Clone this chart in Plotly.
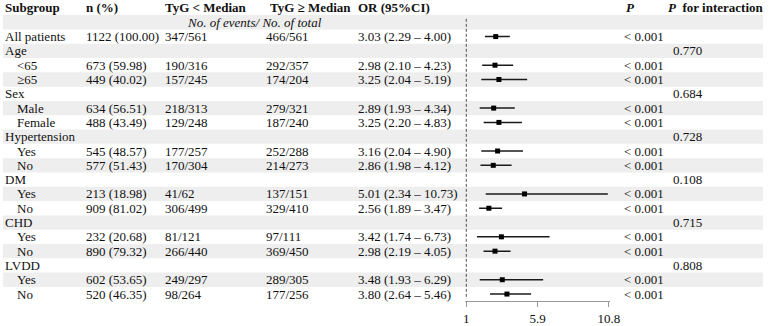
import plotly.graph_objects as go

# ---------------- data ----------------
subgroups = ["All patients", "Age", "<65", "≥65", "Sex", "Male", "Female",
             "Hypertension", "Yes", "No", "DM", "Yes", "No", "CHD", "Yes", "No",
             "LVDD", "Yes", "No"]
indent = [0, 0, 1, 1, 0, 1, 1, 0, 1, 1, 0, 1, 1, 0, 1, 1, 0, 1, 1]
n_pct = ["1122 (100.00)", "", "673 (59.98)", "449 (40.02)", "", "634 (56.51)", "488 (43.49)",
         "", "545 (48.57)", "577 (51.43)", "", "213 (18.98)", "909 (81.02)", "",
         "232 (20.68)", "890 (79.32)", "", "602 (53.65)", "520 (46.35)"]
tyg_low = ["347/561", "", "190/316", "157/245", "", "218/313", "129/248", "", "177/257",
           "170/304", "", "41/62", "306/499", "", "81/121", "266/440", "", "249/297", "98/264"]
tyg_high = ["466/561", "", "292/357", "174/204", "", "279/321", "187/240", "", "252/288",
            "214/273", "", "137/151", "329/410", "", "97/111", "369/450", "", "289/305", "177/256"]
or_val = [3.03, None, 2.98, 3.25, None, 2.89, 3.25, None, 3.16, 2.86, None, 5.01, 2.56,
          None, 3.42, 2.98, None, 3.48, 3.80]
ci_low = [2.29, None, 2.10, 2.04, None, 1.93, 2.20, None, 2.04, 1.98, None, 2.34, 1.89,
          None, 1.74, 2.19, None, 1.93, 2.64]
ci_high = [4.00, None, 4.23, 5.19, None, 4.34, 4.83, None, 4.90, 4.12, None, 10.73, 3.47,
           None, 6.73, 4.05, None, 6.29, 5.46]
p_val = ["< 0.001", "", "< 0.001", "< 0.001", "", "< 0.001", "< 0.001", "", "< 0.001",
         "< 0.001", "", "< 0.001", "< 0.001", "", "< 0.001", "< 0.001", "", "< 0.001", "< 0.001"]
p_int = ["", "0.770", "", "", "0.684", "", "", "0.728", "", "", "0.108", "", "", "0.715",
         "", "", "0.808", "", ""]
headers = ["Subgroup", "n (%)", "TyG < Median", "TyG ≥ Median", "OR (95%CI)",
           "<i>P</i>", "<i>P</i>\u00a0 for interaction"]
subheader = "No. of events/ No. of total"
tick_vals = [1, 5.9, 10.8]

# ---------------- layout constants ----------------
W, H = 774, 326
FONT = "Liberation Serif, Times New Roman, serif"
FS = 13
TXT = "#111111"
row0_px = 8.05
row_h = 14.447
plot_bottom_px = 304
y_top = (0 - row0_px) / row_h
y_bot = (plot_bottom_px - row0_px) / row_h

px1, px2 = 471.7, 617.0
ax_lo, ax_hi = 0.95, 10.85
scale = (px2 - px1) / (10.8 - 1)
d0 = (px1 - (1 - ax_lo) * scale) / W
d1 = (px2 + (ax_hi - 10.8) * scale) / W

fig = go.Figure()

# shaded bands (odd rows)
n_rows = len(subgroups) + 2
shapes = []
for r in range(1, n_rows, 2):
    shapes.append(dict(type="rect", xref="paper", yref="y", x0=0, x1=1,
                       y0=r - 0.5, y1=r + 0.5, fillcolor="#eeeeee",
                       line=dict(width=0), layer="below"))

# reference dashed line at OR = 1
fig.add_trace(go.Scatter(x=[1, 1], y=[0.76, 20.35], mode="lines",
                         line=dict(color="#333333", width=1, dash="3px,2px"),
                         hoverinfo="skip", showlegend=False))

# CI lines and point estimates
lx, ly = [], []
mx, my = [], []
for i, (o, lo, hi) in enumerate(zip(or_val, ci_low, ci_high)):
    if o is None:
        continue
    r = i + 2
    lx += [lo, hi, None]
    ly += [r, r, None]
    mx.append(o)
    my.append(r)
fig.add_trace(go.Scatter(x=lx, y=ly, mode="lines", line=dict(color="#1a1a1a", width=1.5),
                         hoverinfo="skip", showlegend=False))
fig.add_trace(go.Scatter(x=mx, y=my, mode="markers",
                         marker=dict(symbol="square", size=5, color="#000000"),
                         showlegend=False, cliponaxis=False))

# text annotations
ann = []


def add(x, y, text, bold=False, italic=False, anchor="left"):
    t = text
    if italic:
        t = "<i>" + t + "</i>"
    if bold:
        t = "<b>" + t + "</b>"
    ann.append(dict(xref="paper", yref="y", x=x / W, y=y, text=t, showarrow=False,
                    xanchor=anchor, yanchor="middle",
                    font=dict(family=FONT, size=FS, color=TXT)))


header_x = [0, 82, 163, 269.5, 360, 632, 675]
for hx, h in zip(header_x, headers):
    add(hx, 0, h, bold=True)
add(256, 1, subheader, italic=True, anchor="center")

col_x = [82, 163, 266, 360, 630, 680]
for i in range(len(subgroups)):
    r = i + 2
    add(12 if indent[i] else 0, r, subgroups[i])
    if n_pct[i]:
        add(col_x[0], r, n_pct[i])
    if tyg_low[i]:
        add(col_x[1], r, tyg_low[i])
    if tyg_high[i]:
        add(col_x[2], r, tyg_high[i])
    if or_val[i] is not None:
        add(col_x[3], r, f"{or_val[i]:.2f} ({ci_low[i]:.2f} – {ci_high[i]:.2f})")
    if p_val[i]:
        add(col_x[4], r, p_val[i])
    if p_int[i]:
        add(col_x[5], r, p_int[i])

fig.update_layout(
    width=W, height=H,
    margin=dict(l=0, r=0, t=0, b=H - plot_bottom_px, pad=0),
    paper_bgcolor="white", plot_bgcolor="white",
    shapes=shapes, annotations=ann,
    showlegend=False,
    xaxis=dict(domain=[d0, d1], range=[ax_lo, ax_hi], showgrid=False, zeroline=False,
               showline=True, linecolor="#999999", linewidth=1,
               ticks="outside", ticklen=5, tickcolor="#999999", tickwidth=1,
               tickvals=tick_vals, ticktext=[str(v) for v in tick_vals],
               tickfont=dict(family=FONT, size=FS, color=TXT), fixedrange=True),
    yaxis=dict(domain=[0, 1], range=[y_bot, y_top], visible=False, fixedrange=True),
)

fig.write_html("out.html")
